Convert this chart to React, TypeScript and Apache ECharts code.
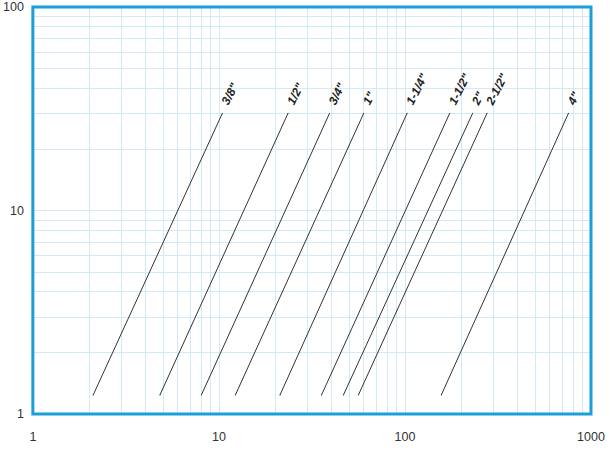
import React, { useEffect, useRef } from "react";
import * as echarts from "echarts";

// Pipe sizes (line labels)
const pipeSizes = ['3/8"', '1/2"', '3/4"', '1"', '1-1/4"', '1-1/2"', '2"', '2-1/2"', '4"'];
// Flow at the lower end of each line
const flowStart = [2.11, 4.82, 8.05, 12.26, 21.3, 35.6, 46.7, 56.2, 156.8];
// Flow at the upper end of each line
const flowEnd = [10.43, 23.5, 39.3, 60.0, 102.6, 173.8, 230.9, 275.9, 756];
// Pressure drop at the lower / upper end of each line
const dropStart = [1.24, 1.24, 1.24, 1.24, 1.24, 1.24, 1.24, 1.24, 1.24];
const dropEnd = [30, 30, 30, 30, 30, 30, 30, 30, 30];
// Minor grid values
const xMinorGrid = [2, 3, 4, 5, 6, 7, 8, 9, 20, 30, 40, 50, 60, 70, 80, 90, 200, 300, 400, 500, 600, 700, 800, 900];
const yMinorGrid = [2, 3, 4, 5, 6, 7, 8, 9, 20, 30, 40, 50, 60, 70, 80, 90];

const BLUE = "#1a9fda";
const GRID = "#d3e9f6";
const FONT = "Liberation Sans, Arial, sans-serif";

export default function App() {
  const ref = useRef<HTMLDivElement>(null);
  useEffect(() => {
    if (!ref.current) return;
    const chart = echarts.init(ref.current, null, { renderer: "svg" });
    const lineSeries = pipeSizes.map((name, i) => ({
      type: "line",
      name,
      z: 3,
      symbol: "circle",
      symbolSize: 1,
      itemStyle: { color: "#333" },
      lineStyle: { color: "#333", width: 1 },
      data: [
        [flowStart[i], dropStart[i]],
        {
          value: [flowEnd[i], dropEnd[i]],
          label: {
            show: true,
            formatter: name,
            rotate: 63,
            position: [3, -9],
            align: "left",
            verticalAlign: "middle",
            fontFamily: FONT,
            fontWeight: "bold",
            fontStyle: "italic",
            fontSize: 12,
            color: "#222",
          },
        },
      ],
    }));
    chart.setOption({
      animation: false,
      grid: {
        left: 32,
        right: 19,
        top: 7,
        bottom: 39,
        show: true,
        borderColor: BLUE,
        borderWidth: 3,
        backgroundColor: "transparent",
        z: 4,
      },
      xAxis: {
        type: "log",
        logBase: 10,
        min: 1,
        max: 1000,
        axisLine: { show: false },
        axisTick: { show: false },
        splitLine: { show: true, lineStyle: { color: GRID, width: 1 } },
        axisLabel: {
          color: "#333",
          fontSize: 12.5,
          margin: 16,
          fontFamily: FONT,
          formatter: (v: number) => String(Math.round(v)),
        },
      },
      yAxis: {
        type: "log",
        logBase: 10,
        min: 1,
        max: 100,
        axisLine: { show: false },
        axisTick: { show: false },
        splitLine: { show: true, lineStyle: { color: GRID, width: 1 } },
        axisLabel: {
          color: "#333",
          fontSize: 12.5,
          margin: 9,
          fontFamily: FONT,
          formatter: (v: number) => String(Math.round(v)),
        },
      },
      series: [
        {
          type: "line",
          z: 1,
          data: [],
          silent: true,
          markLine: {
            silent: true,
            z: 1,
            symbol: "none",
            label: { show: false },
            lineStyle: { color: GRID, width: 1, type: "solid" },
            data: [
              ...xMinorGrid.map((v) => ({ xAxis: v })),
              ...yMinorGrid.map((v) => ({ yAxis: v })),
            ],
          },
        },
        ...lineSeries,
      ],
    });
    return () => chart.dispose();
  }, []);
  return (
    <div
      ref={ref}
      style={{ position: "fixed", left: 0, top: 0, width: 610, height: 453, background: "#fff" }}
    />
  );
}
